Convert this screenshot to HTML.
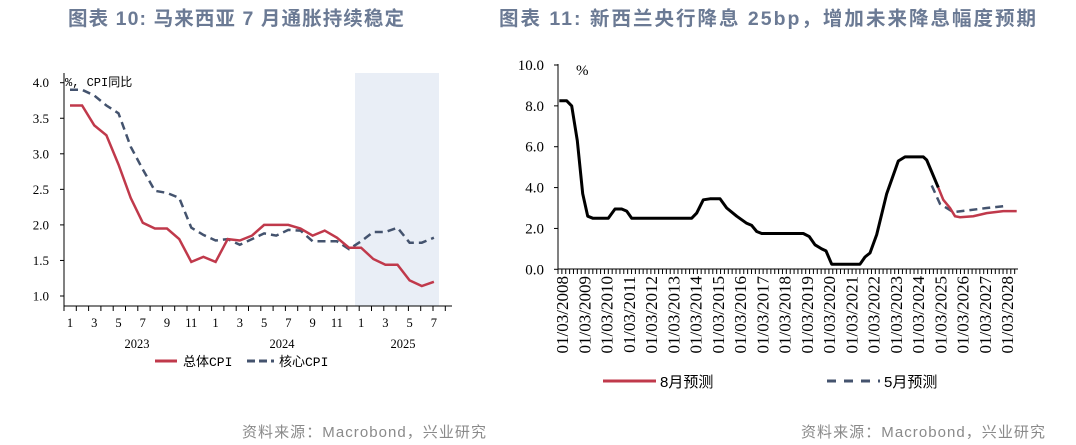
<!DOCTYPE html>
<html><head><meta charset="utf-8"><style>
body{margin:0;width:1076px;height:445px;background:#fff;overflow:hidden;font-family:"Liberation Sans","Noto Sans CJK SC",sans-serif}
svg{position:absolute;left:0;top:0}
</style></head><body>
<svg id="s" width="1076" height="445" xmlns="http://www.w3.org/2000/svg">
<g font-family="Liberation Sans,Noto Sans CJK SC,sans-serif" font-weight="bold" font-size="19.5" fill="#6b7a94">
<text x="68" y="25" textLength="336">图表 10: 马来西亚 7 月通胀持续稳定</text>
<text x="499" y="25" textLength="537">图表 11: 新西兰央行降息 25bp，增加未来降息幅度预期</text>
</g>
<g font-size="15" fill="#8a8a8a" font-family="Liberation Sans,Noto Sans CJK SC,sans-serif">
<text x="242" y="437" textLength="244">资料来源：Macrobond，兴业研究</text>
<text x="801" y="437" textLength="244">资料来源：Macrobond，兴业研究</text>
</g>
<rect x="355" y="73" width="84" height="233" fill="#e9eef6"/>
<g id="L"></g>
<g id="R"></g>
</svg>
<script>
var NS="http://www.w3.org/2000/svg";
function el(p,t,a,txt){var e=document.createElementNS(NS,t);for(var k in a)e.setAttribute(k,a[k]);if(txt!=null)e.textContent=txt;p.appendChild(e);return e;}
var L=document.getElementById("L");
var fx=function(i){return 70+i*12.13},fy=function(v){return 82.7+(4-v)*71.1};
el(L,"line",{x1:64,y1:73,x2:64,y2:306,stroke:"#000","stroke-width":1});
el(L,"line",{x1:64,y1:306,x2:452,y2:306,stroke:"#000","stroke-width":1});
[4,3.5,3,2.5,2,1.5,1].forEach(function(v){var y=fy(v);el(L,"line",{x1:60,y1:y,x2:64,y2:y,stroke:"#000"});el(L,"text",{x:49,y:y+4.5,"font-size":13,"text-anchor":"end","font-family":"Liberation Serif,serif"},v.toFixed(1));});
for(var i=0;i<=31;i++){var x=64+i*12.3;el(L,"line",{x1:x,y1:306,x2:x,y2:311,stroke:"#000"});}
var ml=["1","3","5","7","9","11","1","3","5","7","9","11","1","3","5","7"];
for(var i=0;i<16;i++){el(L,"text",{x:fx(i*2),y:327,"font-size":12.5,"text-anchor":"middle","font-family":"Liberation Serif,serif"},ml[i]);}
[["2023",137],["2024",282],["2025",403]].forEach(function(a){el(L,"text",{x:a[1],y:348,"font-size":12.5,"text-anchor":"middle","font-family":"Liberation Serif,serif"},a[0]);});
el(L,"text",{x:65,y:86,"font-size":12,"font-family":"Liberation Mono,Noto Sans CJK SC,monospace"},"%, CPI同比");
var tot=[3.68,3.68,3.4,3.26,2.85,2.38,2.03,1.95,1.95,1.8,1.48,1.55,1.48,1.8,1.78,1.85,2.0,2.0,2.0,1.95,1.85,1.92,1.82,1.68,1.68,1.52,1.44,1.44,1.22,1.14,1.2];
var core=[3.9,3.9,3.82,3.68,3.57,3.1,2.78,2.48,2.45,2.38,1.96,1.86,1.78,1.8,1.72,1.8,1.88,1.85,1.93,1.92,1.77,1.77,1.77,1.66,1.77,1.9,1.9,1.96,1.75,1.75,1.82];
function pts(a){return a.map(function(v,i){return fx(i).toFixed(1)+","+fy(v).toFixed(1)}).join(" ")}
el(L,"polyline",{points:pts(core),fill:"none",stroke:"#44536e","stroke-width":2.5,"stroke-dasharray":"8,5"});
el(L,"polyline",{points:pts(tot),fill:"none",stroke:"#c0394b","stroke-width":2.5});
el(L,"line",{x1:155,y1:361,x2:177,y2:361,stroke:"#c0394b","stroke-width":3});
el(L,"text",{x:183,y:366,"font-size":13,"font-family":"Liberation Mono,Noto Sans CJK SC,monospace"},"总体CPI");
el(L,"line",{x1:247,y1:361,x2:274,y2:361,stroke:"#44536e","stroke-width":3,"stroke-dasharray":"8,4"});
el(L,"text",{x:279,y:366,"font-size":13,"font-family":"Liberation Mono,Noto Sans CJK SC,monospace"},"核心CPI");
var R=document.getElementById("R");
var ry=function(v){return 269.3-20.43*v};
el(R,"line",{x1:558,y1:64,x2:558,y2:269,stroke:"#000"});
el(R,"line",{x1:558,y1:269,x2:1018,y2:269,stroke:"#000"});
[10,8,6,4,2,0].forEach(function(v){var y=ry(v);el(R,"line",{x1:554,y1:y,x2:558,y2:y,stroke:"#000"});el(R,"text",{x:544,y:y+5,"font-size":15,"text-anchor":"end","font-family":"Liberation Serif,serif"},v.toFixed(1));});
for(var x=558;x<=1018;x+=3.87){el(R,"line",{x1:x,y1:269,x2:x,y2:274,stroke:"#000"});}
for(var yr=2008;yr<=2028;yr++){var x=562+(yr-2008)*22.25;el(R,"text",{transform:"translate("+(x+6)+",276) rotate(-90)","font-size":17,"text-anchor":"end","font-family":"Liberation Serif,serif"},"01/03/"+yr);}
el(R,"text",{x:576,y:75,"font-size":15,"font-family":"Liberation Serif,serif"},"%");
function rp(a){return a.map(function(p){return (520+p[0]/3).toFixed(1)+","+ry(p[1]).toFixed(1)}).join(" ")}
var blk=[[118,8.25],[140,8.25],[155,8.0],[172,6.3],[188,3.7],[203,2.6],[218,2.5],[265,2.5],[285,2.95],[305,2.95],[320,2.85],[335,2.5],[515,2.5],[530,2.75],[550,3.4],[570,3.45],[600,3.45],[620,3.0],[650,2.6],[680,2.25],[695,2.15],[710,1.85],[725,1.75],[850,1.75],[868,1.6],[885,1.2],[905,1.0],[918,0.9],[935,0.25],[1020,0.25],[1035,0.6],[1050,0.8],[1070,1.7],[1100,3.7],[1135,5.3],[1155,5.5],[1210,5.5],[1220,5.35],[1255,4.0]];
var red=[[1255,4.0],[1270,3.4],[1290,3.0],[1305,2.6],[1320,2.55],[1360,2.6],[1400,2.75],[1450,2.85],[1490,2.85]];
var blu=[[1235,4.1],[1260,3.2],[1300,2.8],[1350,2.9],[1400,3.0],[1455,3.1]];
el(R,"polyline",{points:rp(blu),fill:"none",stroke:"#44536e","stroke-width":2.5,"stroke-dasharray":"8,5"});
el(R,"polyline",{points:rp(blk),fill:"none",stroke:"#000","stroke-width":3,"stroke-linejoin":"round"});
el(R,"polyline",{points:rp(red),fill:"none",stroke:"#c0394b","stroke-width":2.5});
el(R,"line",{x1:603,y1:381,x2:656,y2:381,stroke:"#c0394b","stroke-width":3});
el(R,"text",{x:660,y:387,"font-size":15,"font-family":"Liberation Sans,Noto Sans CJK SC,sans-serif"},"8月预测");
el(R,"line",{x1:827,y1:381,x2:880,y2:381,stroke:"#44536e","stroke-width":3,"stroke-dasharray":"9,8"});
el(R,"text",{x:884,y:387,"font-size":15,"font-family":"Liberation Sans,Noto Sans CJK SC,sans-serif"},"5月预测");
</script>
</body></html>
